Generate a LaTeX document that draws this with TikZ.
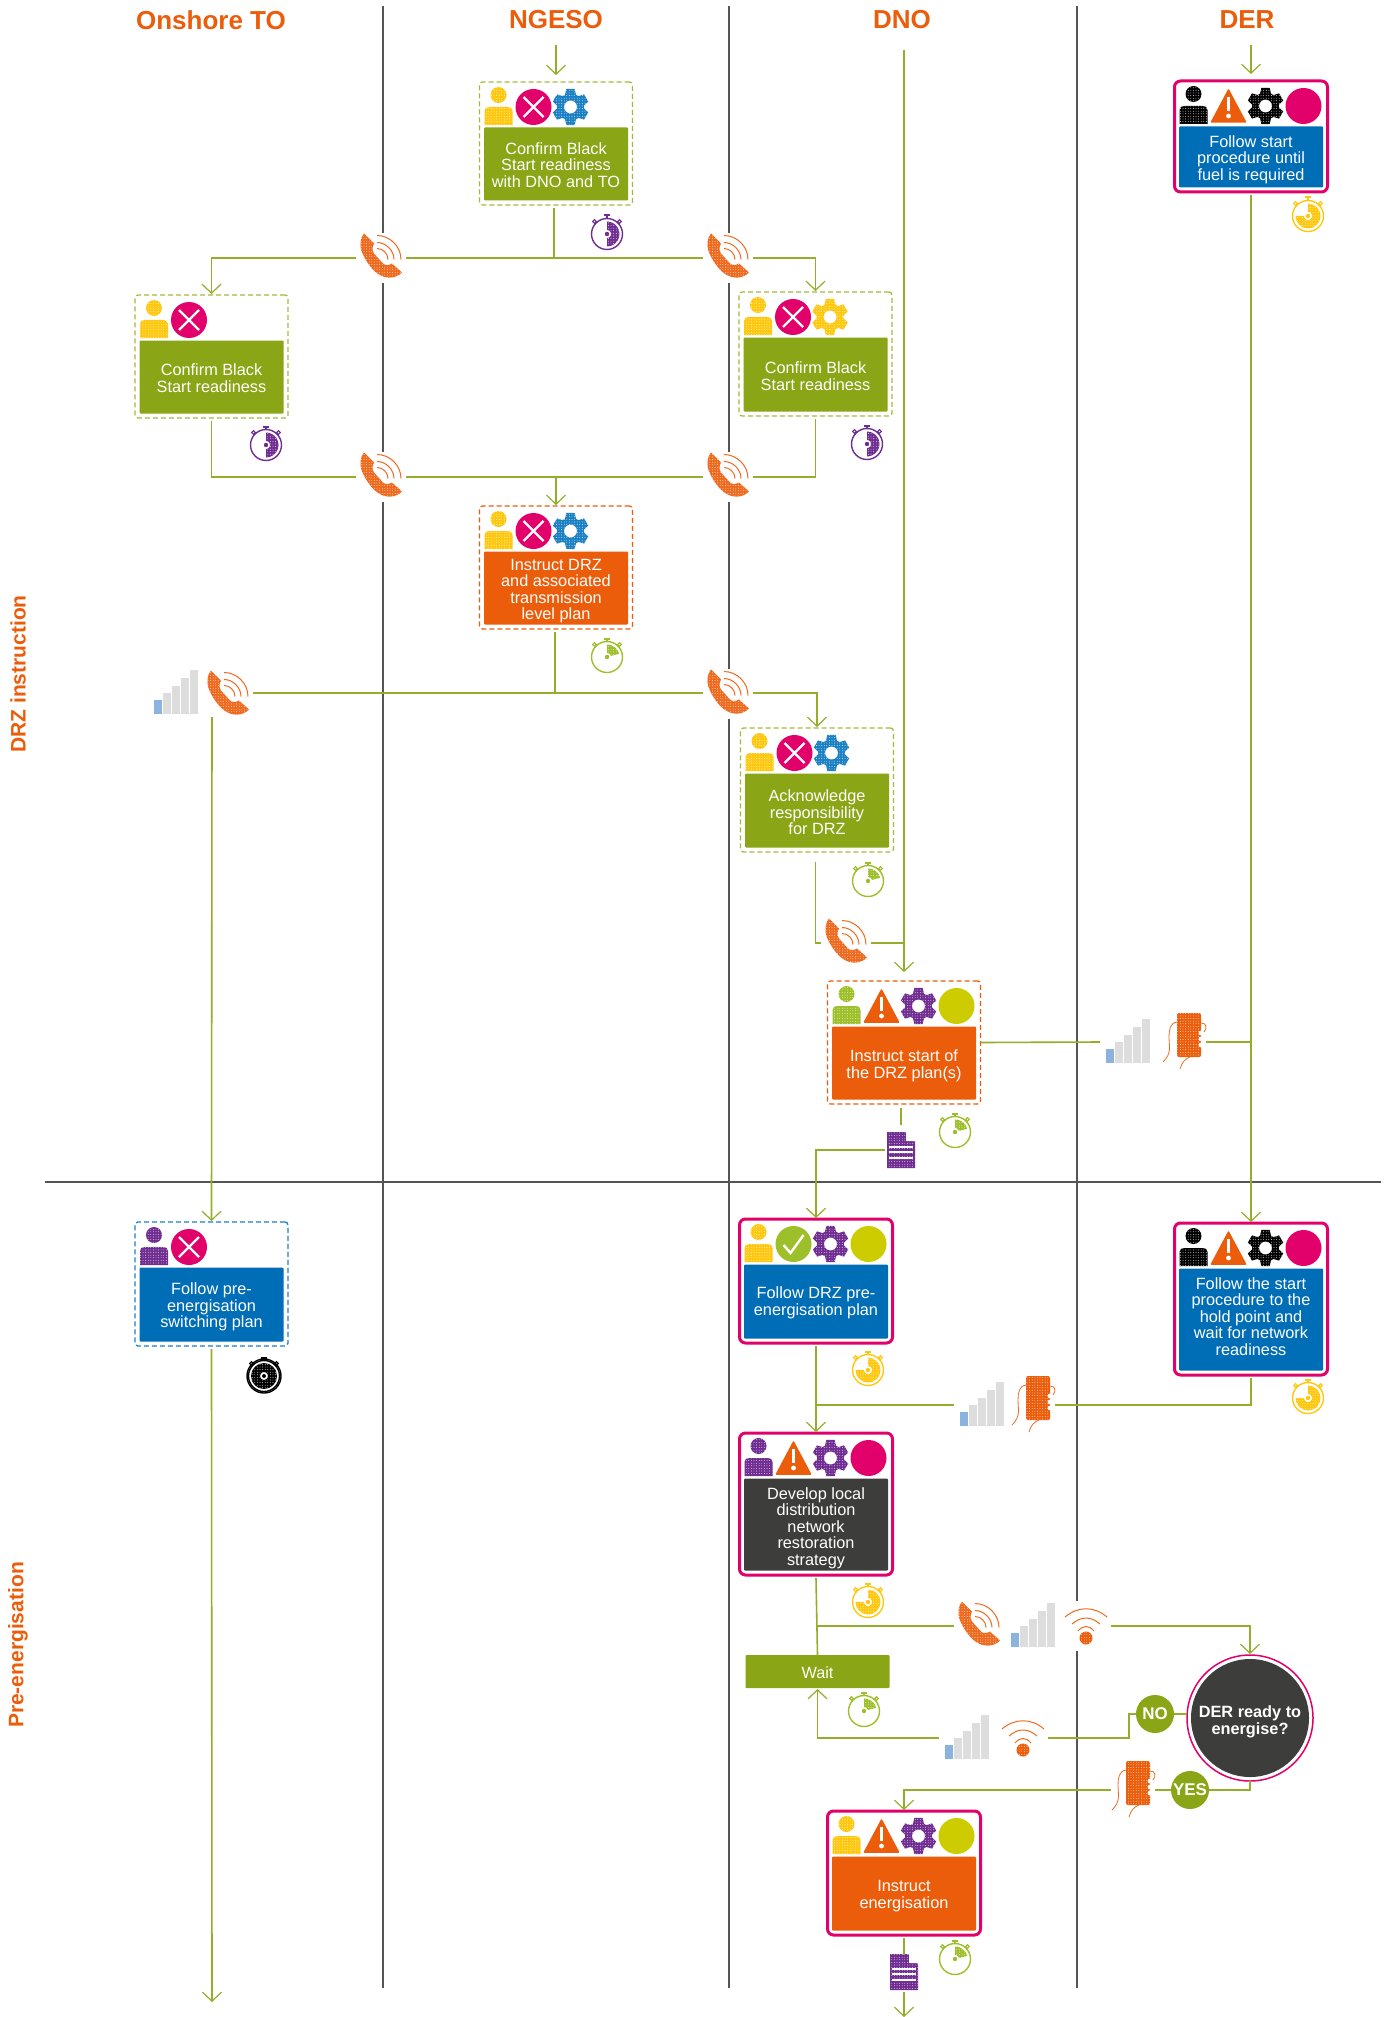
\documentclass[tikz,border=0pt]{standalone}
\usepackage{fontspec}
\setmainfont{Liberation Sans}
\usetikzlibrary{arrows.meta,patterns}
\pgfdeclarepatternformonly{finedots}{\pgfqpoint{-1pt}{-1pt}}{\pgfqpoint{1pt}{1pt}}{\pgfqpoint{2.6pt}{2.6pt}}{\pgfpathcircle{\pgfpointorigin}{.42pt}\pgfusepath{fill}}
\definecolor{cgreen}{HTML}{8AA515}
\definecolor{clink}{HTML}{94AE2C}
\definecolor{cdash}{HTML}{A5BA3C}
\definecolor{cpink}{HTML}{E2006A}
\definecolor{cblue}{HTML}{006EB7}
\definecolor{cgearblue}{HTML}{1B7FC4}
\definecolor{corange}{HTML}{EC5D0B}
\definecolor{cphone}{HTML}{EE6A1F}
\definecolor{cdark}{HTML}{3D3D3C}
\definecolor{cyellow}{HTML}{FFC80F}
\definecolor{cpurple}{HTML}{6F2C91}
\definecolor{clime}{HTML}{CCCC00}
\definecolor{cleaf}{HTML}{9DBF2A}
\definecolor{clane}{HTML}{555555}
\definecolor{cbar}{HTML}{DDDDDD}
\definecolor{cbarb}{HTML}{8BB3E0}
\tikzset{
  lane/.style={draw=clane,line width=1.3pt},
  link/.style={draw=clink,line width=1.6pt},
  flow/.style={link,shorten >=1pt,-{Straight Barb[length=9pt,width=19pt,line width=1.2pt]}},
  tex/.style={preaction={fill=#1,even odd rule},pattern=finedots,pattern color=white,even odd rule},
  slot/.style={inner sep=0pt,outer sep=0pt,minimum width=50pt,minimum height=50pt,fill=white},
  sigslot/.style={inner sep=0pt,outer sep=0pt,minimum width=56pt,minimum height=44pt},
  mobslot/.style={inner sep=0pt,outer sep=0pt,minimum width=44pt,minimum height=44pt},
  outer/.style={inner sep=0pt,outer sep=0pt,minimum width=153pt},
  dgreen/.style={outer,draw=cdash,line width=1.3pt,dash pattern=on 5pt off 3pt,rounded corners=3pt},
  dorange/.style={outer,draw=corange,line width=1.3pt,dash pattern=on 5pt off 3pt,rounded corners=3pt},
  dblue/.style={outer,draw=cgearblue,line width=1.3pt,dash pattern=on 5pt off 3pt,rounded corners=3pt},
  spink/.style={outer,draw=cpink,line width=3pt,rounded corners=6pt},
  innerbox/.style={inner sep=0pt,outer sep=0pt,minimum width=144pt,rounded corners=1pt},
  bodytext/.style={inner sep=0pt,outer sep=0pt,align=center,text=white,font=\fontsize{16.3}{16.5}\selectfont},
  head/.style={text=corange,font=\fontsize{26}{26}\bfseries\selectfont},
  side/.style={text=corange,rotate=90,font=\fontsize{21}{21}\bfseries\selectfont},
  badge/.style={circle,fill=cgreen,text=white,inner sep=0pt,outer sep=0pt,minimum size=38pt,font=\fontsize{17}{17}\bfseries\selectfont},
}
% task box: name, centre x, top, bottom, style, fill, text shift, text
\newcommand\taskbox[8]{%
  \node[#5,minimum height={#4-#3}] (#1) at (#2,{(#3+#4)/2}) {};
  \node[innerbox,fill=#6,minimum height={#4-#3-50}] (#1t) at (#2,{(#3+#4+41)/2}) {};
  \node[bodytext] (#1x) at (#2,{(#3+#4+41)/2+#7}) {#8};
}
\newcommand\IPerson[3]{\begin{scope}[shift={(#1.north west)},shift={(#2,25)}]
  \path[tex=#3] (0,-12) circle[radius=8pt];
  \path[tex=#3] (-14,18) -- (-14,4) .. controls (-14,1) and (-12,0) .. (-9,0) -- (9,0) .. controls (12,0) and (14,1) .. (14,4) -- (14,18) -- cycle;
\end{scope}}
\newcommand\IDisc[3]{\begin{scope}[shift={(#1.north west)},shift={(#2,25)}]
  \fill[#3] (0,0) circle[radius=18pt];
\end{scope}}
\newcommand\ICross[2]{\begin{scope}[shift={(#1.north west)},shift={(#2,25)}]
  \fill[cpink] (0,0) circle[radius=18pt];
  \draw[white,line width=2.4pt] (-10,-10) -- (10,10) (-10,10) -- (10,-10);
\end{scope}}
\newcommand\ICheck[2]{\begin{scope}[shift={(#1.north west)},shift={(#2,25)}]
  \fill[cleaf] (0,0) circle[radius=18pt];
  \draw[white,line width=2.4pt] (-10,1) -- (-3,9) -- (10,-9);
\end{scope}}
\newcommand\ITri[2]{\begin{scope}[shift={(#1.north west)},shift={(#2,25)}]
  \path[fill=corange,draw=corange,line width=1.5pt,line join=round] (0,-16) -- (17,16) -- (-17,16) -- cycle;
  \draw[white,line width=2.2pt] (0,-9) -- (0,5);
  \fill[white] (0,10) circle[radius=2.4pt];
\end{scope}}
\newcommand\IGear[3]{\begin{scope}[shift={(#1.north west)},shift={(#2,25)}]
  \path[tex=#3] (6:13.5) \foreach \a in {30,90,...,330}{ -- ({\a-24}:13.5) -- ({\a-13}:18.5) -- ({\a+13}:18.5) -- ({\a+24}:13.5) } -- cycle (0,0) circle[radius=6.5pt];
\end{scope}}
\newcommand\PhoneAt[3]{\node[slot] (#1) at (#2,#3) {};
 \begin{scope}[shift={(#2,#3)},shift={(0,-2.5)}]
  \path[tex=cphone] (-17,-22) .. controls (-21,-18) and (-21,-10) .. (-20,-6) .. controls (-17,4) and (-8,16) .. (-2,19) .. controls (4,23) and (14,24) .. (21,17) -- (11,8) .. controls (8,10) and (4,10) .. (2,8) -- (-7,-2) .. controls (-9,-5) and (-9,-8) .. (-7,-12) -- cycle;
  \draw[cphone,line width=1pt] (-4,-20) .. controls (9,-20) and (20,-9) .. (20,4);
  \draw[cphone,line width=1pt] (-4,-13) .. controls (5,-13) and (13,-5) .. (13,4);
  \draw[cphone,line width=1pt] (-4,-7) .. controls (2,-7) and (7,-2) .. (7,4);
 \end{scope}}
\newcommand\SignalAt[3]{\node[sigslot] (#1) at (#2,#3) {};
 \begin{scope}[shift={(#2,#3)},shift={(-22,21)}]
  \fill[cbarb] (0,0) rectangle (8,-14);
  \fill[cbar] (9,0) rectangle (17,-21);
  \fill[cbar] (18,0) rectangle (26,-28);
  \fill[cbar] (27,0) rectangle (35,-36);
  \fill[cbar] (36,0) rectangle (44,-44);
 \end{scope}}
\newcommand\WifiAt[3]{\node[slot] (#1) at (#2,#3) {};
 \begin{scope}[shift={(#2,#3)},shift={(0,12)}]
  \path[tex=corange] (0,0) circle[radius=6.5pt];
  \draw[cphone,line width=1pt] (-21,-21) .. controls (-8,-32) and (8,-32) .. (21,-21);
  \draw[cphone,line width=1pt] (-14,-14) .. controls (-5,-22) and (5,-22) .. (14,-14);
  \draw[cphone,line width=1pt] (-8,-7) .. controls (-3,-13) and (3,-13) .. (8,-7);
 \end{scope}}
\newcommand\MobileAt[3]{\node[mobslot] (#1) at (#2,#3) {};
 \begin{scope}[shift={(#2,#3)},shift={(5,-7)}]
  \path[tex=corange,rounded corners=2pt] (-12,-22) rectangle (12,22);
  \draw[cphone,line width=.8pt] (-12,-13) .. controls (-19,-12) and (-20,-5) .. (-20,2) .. controls (-20,12) and (-17,18) .. (-26,27);
  \draw[cphone,line width=.8pt] (1,22) .. controls (-4,24) and (-7,27) .. (-9,34);
  \draw[cphone,line width=.8pt] (12,-12) .. controls (18,-12) and (18,-7) .. (15,-3);
  \fill[white] (12,-2) circle[radius=2.4pt] (12,4) circle[radius=2.4pt] (12,10) circle[radius=2.4pt];
 \end{scope}}
\newcommand\TimerBase[3]{%
  \draw[#3,line width=1.4pt] (#1,#2) circle[radius=15.5pt];
  \draw[#3,line width=2pt] (#1-3,#2-18.5) -- (#1+3,#2-18.5);
  \draw[#3,line width=1.2pt] (#1,#2-18.5) -- (#1,#2-15.5);
  \draw[#3,line width=1.1pt,fill=white] (#1-12.5,#2-12.5) circle[radius=1.8pt] (#1+12.5,#2-12.5) circle[radius=1.8pt];
}
\newcommand\Sector[6]{% x y col start end hole
  \begin{scope}[shift={(#1,#2)}]
  \path[tex=#3] ({#4}:#6) \foreach \i in {0,...,12}{ -- ({#4+(#5-#4)*\i/12}:12.5) } \foreach \i in {12,11,...,0}{ -- ({#4+(#5-#4)*\i/12}:#6) } -- cycle;
  \fill[#3] (0,0) circle[radius=2.2pt];
  \end{scope}}
\newcommand\TimerHalf[2]{\TimerBase{#1}{#2}{cpurple}\Sector{#1}{#2}{cpurple}{-90}{90}{4}}
\newcommand\TimerWedge[2]{\TimerBase{#1}{#2}{cleaf}\Sector{#1}{#2}{cleaf}{-90}{-15}{4}}
\newcommand\TimerThree[2]{\TimerBase{#1}{#2}{cyellow}\Sector{#1}{#2}{cyellow}{-90}{180}{4}}
\newcommand\TimerFull[2]{\TimerBase{#1}{#2}{black}
  \begin{scope}[shift={(#1,#2)}]
  \draw[black,line width=1.4pt] (0,0) circle[radius=17pt];
  \path[tex=black] (0,0) circle[radius=13pt] (0,0) circle[radius=4pt];
  \fill[black] (0,0) circle[radius=2pt];
  \end{scope}}
\newcommand\DocAt[3]{\node[inner sep=0pt,outer sep=0pt,minimum width=32pt,minimum height=40pt,fill=white] (#1) at (#2,#3) {};
 \begin{scope}[shift={(#2,#3)}]
  \path[tex=cpurple] (-14,-18) -- (4,-18) -- (14,-8) -- (14,18) -- (-14,18) -- cycle;
  \fill[white] (5,-18) -- (14,-9) -- (5,-9) -- cycle;
  \draw[white,line width=1.5pt] (-12,-3) -- (12,-3) (-12,2) -- (12,2) (-12,8) -- (12,8);
 \end{scope}}
\begin{document}
\begin{tikzpicture}[x=1pt,y=-1pt]
\useasboundingbox (0,0) rectangle (1388,2017);
\fill[white] (0,0) rectangle (1388,2017);
% lanes
\draw[lane] (383,6) -- (383,1988);
\draw[lane] (729,6) -- (729,1988);
\draw[lane] (1077,6) -- (1077,1988);
\draw[lane] (45,1182) -- (1381,1182);
% headers
\node[head] (hto) at (211,20) {Onshore TO};
\node[head] (hng) at (556,20) {NGESO};
\node[head] (hdn) at (902,20) {DNO};
\node[head] (hde) at (1247,20) {DER};
\node[side] (s1) at (18,674) {DRZ instruction};
\node[side] (s2) at (18,1645) {Pre-energisation};
% task boxes
\taskbox{n1}{556}{82}{205}{dgreen}{cgreen}{1}{Confirm Black\\Start readiness\\with DNO and TO}
\ICross{n1}{54}\IPerson{n1}{19}{cyellow}\IGear{n1}{91}{cgearblue}
\taskbox{n2}{211.5}{295}{418}{dgreen}{cgreen}{1}{Confirm Black\\Start readiness}
\IPerson{n2}{19}{cyellow}\ICross{n2}{54}
\taskbox{n3}{815.5}{292}{416}{dgreen}{cgreen}{1.5}{Confirm Black\\Start readiness}
\IPerson{n3}{19}{cyellow}\ICross{n3}{54}\IGear{n3}{91}{cyellow}
\taskbox{n4}{556}{506}{629}{dorange}{corange}{3}{Instruct DRZ\\and associated\\transmission\\level plan}
\IPerson{n4}{19}{cyellow}\ICross{n4}{54}\IGear{n4}{91}{cgearblue}
\taskbox{n5}{817}{728}{852}{dgreen}{cgreen}{2}{Acknowledge\\responsibility\\for DRZ}
\IPerson{n5}{19}{cyellow}\ICross{n5}{54}\IGear{n5}{91}{cgearblue}
\taskbox{n6}{904}{981}{1104}{dorange}{corange}{3}{Instruct start of\\the DRZ plan(s)}
\IPerson{n6}{19}{cleaf}\ITri{n6}{54}\IGear{n6}{91}{cpurple}\IDisc{n6}{129}{clime}
\taskbox{n7}{211.5}{1222}{1346}{dblue}{cblue}{2.5}{Follow pre-\\energisation\\switching plan}
\IPerson{n7}{19}{cpurple}\ICross{n7}{54}
\taskbox{n8}{816}{1219}{1343}{spink}{cblue}{1.5}{Follow DRZ pre-\\energisation plan}
\IPerson{n8}{19}{cyellow}\ICheck{n8}{54}\IGear{n8}{91}{cpurple}\IDisc{n8}{129}{clime}
\taskbox{n9}{1251}{81}{192}{spink}{cblue}{2.5}{Follow start\\procedure until\\fuel is required}
\IPerson{n9}{19}{black}\ITri{n9}{54}\IGear{n9}{91}{black}\IDisc{n9}{129}{cpink}
\taskbox{n10}{1251}{1223}{1375}{spink}{cblue}{-3}{Follow the start\\procedure to the\\hold point and\\wait for network\\readiness}
\IPerson{n10}{19}{black}\ITri{n10}{54}\IGear{n10}{91}{black}\IDisc{n10}{129}{cpink}
\taskbox{n11}{816}{1433}{1575}{spink}{cdark}{3.5}{Develop local\\distribution\\network\\restoration\\strategy}
\IPerson{n11}{19}{cpurple}\ITri{n11}{54}\IGear{n11}{91}{cpurple}\IDisc{n11}{129}{cpink}
\taskbox{n14}{904}{1811}{1935}{spink}{corange}{2.5}{Instruct\\energisation}
\IPerson{n14}{19}{cyellow}\ITri{n14}{54}\IGear{n14}{91}{cpurple}\IDisc{n14}{129}{clime}
% wait
\node[innerbox,fill=cgreen,minimum height=33pt] (nwait) at (817.5,1671.5) {};
\node[bodytext] (nwaitx) at (817.5,1672.5) {Wait};
% decision
\node[circle,draw=cpink,line width=1.5pt,fill=white,minimum size=126pt,inner sep=0pt,outer sep=0pt] (dec) at (1250,1718) {};
\node[circle,fill=cdark,minimum size=118pt,inner sep=0pt] (dect) at (1250,1718) {};
\node[inner sep=0pt,align=center,text=white,font=\fontsize{16.3}{16.5}\bfseries\selectfont] (dectx) at (1250,1722) {DER ready to\\energise?};
\node[badge] (bno) at (1155,1714) {NO};
\node[badge] (byes) at (1190,1790) {YES};
% comms icons
\PhoneAt{ph1}{381}{258}
\PhoneAt{ph2}{728}{258}
\PhoneAt{ph3}{381}{477}
\PhoneAt{ph4}{728}{477}
\PhoneAt{ph5}{228}{695}
\PhoneAt{ph6}{728}{694}
\PhoneAt{ph7}{846}{943}
\PhoneAt{ph8}{979}{1626}
\SignalAt{sg1}{176}{693}
\SignalAt{sg2}{1128}{1042}
\SignalAt{sg3}{982}{1405}
\SignalAt{sg4}{1033}{1626}
\SignalAt{sg5}{967}{1738}
\MobileAt{mb1}{1184}{1042}
\MobileAt{mb2}{1033}{1405}
\MobileAt{mb3}{1133}{1790}
\WifiAt{wf1}{1086}{1626}
\WifiAt{wf2}{1023}{1738}
\DocAt{dc1}{901}{1150}
\DocAt{dc2}{904}{1972}
% timers
\TimerHalf{607}{234}\TimerHalf{266}{445}\TimerHalf{867}{444}
\TimerWedge{607}{657}\TimerWedge{868}{881}\TimerWedge{955}{1132}\TimerWedge{864}{1711}\TimerWedge{955}{1959}
\TimerThree{1308}{216}\TimerThree{868}{1370}\TimerThree{1308}{1398}\TimerThree{868}{1602}
\TimerFull{264}{1376}
% free ends and junctions
\coordinate (cng) at (556,45);
\coordinate (cder) at (1251,45);
\coordinate (cdno) at (904,50);
\coordinate (cto) at (212,717);
\coordinate (cbot) at (904,2017);
\coordinate (cbot2) at (212,2003);
\coordinate (cdec) at (1129,1738);
% connectors
\draw[flow,shorten >=7pt] (cng) -- (n1.north);
\draw[flow,shorten >=7pt] (cder) -- (n9.north);
\draw[flow,shorten >=9pt] (cdno) -- (n6.north);
\draw[link] ([xshift=-2pt,yshift=-3pt]n1.south) -- ([xshift=-2pt]n1.south |- ph1.center);
\draw[flow] (ph1.west) -| (n2.north);
\draw[link] (ph1.east) -- (ph2.west);
\draw[flow] (ph2.east) -| (n3.north);
\draw[link] ([yshift=-3pt]n2.south) |- (ph3.west);
\draw[link] (ph3.east) -- (ph4.west);
\draw[flow] (n4.north |- ph3.center) -- (n4.north);
\draw[link] (ph4.east) -| ([yshift=-3pt]n3.south);
\draw[link] ([xshift=-1pt,yshift=-3pt]n4.south) -- ([xshift=-1pt]n4.south |- sg1.center);
\draw[link] (ph5.east |- sg1.center) -- (ph6.west |- sg1.center);
\draw[flow] (ph6.east |- sg1.center) -| (n5.north);
\draw[flow] (cto) -- (n7.north);
\draw[link] ([xshift=-1.5pt,yshift=-10pt]n5.south) |- (ph7.west);
\draw[link] (ph7.east) -- (ph7.east -| cdno);
\draw[link] (n6.east) -- (sg2.west);
\draw[link] (mb1.east) -- (mb1.east -| n9.south);
\draw[flow] ([yshift=-3pt]n9.south) -- (n10.north);
\draw[link] ([xshift=-3pt,yshift=-4pt]n6.south) -- ([xshift=-3pt,yshift=-21pt]n6.south);
\draw[flow] (dc1.west) -| (n8.north);
\draw[flow] ([yshift=-3pt]n8.south) -- (n11.north);
\draw[link] (n8.south |- sg3.west) -- (sg3.west);
\draw[link] (mb2.east) -| ([yshift=-3pt]n10.south);
\draw[link] ([yshift=-3pt]n11.south) -- (nwait.north);
\draw[link] (n11.south |- ph8.west) -- (ph8.west);
\draw[flow] (wf1.east) -| (dec.north);
\draw[flow] (sg5.west) -| (nwait.south);
\draw[link] (wf2.east) -- (cdec) |- (bno.west);
\draw[link] (bno.east) -- (dec.west |- bno.east);
\draw[link] (dec.south) |- (byes.east);
\draw[link] (byes.west) -- (mb3.east);
\draw[flow] (mb3.west) -| (n14.north);
\draw[link] ([yshift=-3pt]n14.south) -- ([yshift=-20pt]n14.south);
\draw[flow,shorten >=0pt] (dc2.south) -- (cbot);
\draw[flow] ([yshift=-3pt]n7.south) -- (cbot2);
\end{tikzpicture}
\end{document}
